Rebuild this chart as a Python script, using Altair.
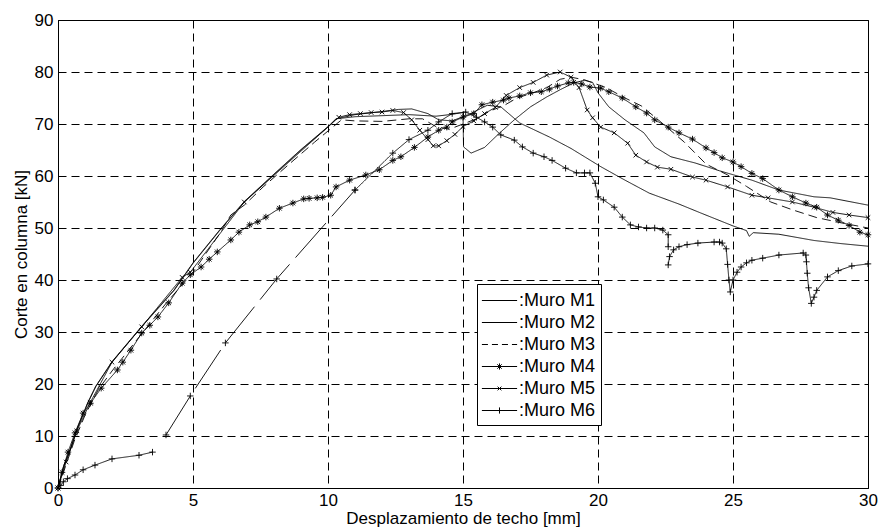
import altair as alt
import pandas as pd

muros = ["M1", "M2", "M3", "M4", "M5", "M6"]
legend_labels = [":Muro M1", ":Muro M2", ":Muro M3", ":Muro M4", ":Muro M5", ":Muro M6"]
x_ticks = [0, 5, 10, 15, 20, 25, 30]
y_ticks = [0, 10, 20, 30, 40, 50, 60, 70, 80, 90]

m1_x = [0, 0.2, 0.45, 0.7, 1.1, 1.4, 2.0, 3.1, 4.3, 5.0, 6.0, 6.9, 7.9, 9.0, 10.0, 10.3, 11.0, 12.0, 12.6, 13.1,
        13.7, 14.1, 14.6, 15.2, 15.9, 16.4, 17.1, 18.2, 19.0, 20.1, 21.0, 21.9, 23.0, 23.8, 25.0, 25.5, 25.6, 25.75,
        26.7, 28.0, 29.0, 30.0]
m1_y = [0, 4, 7.3, 11.2, 16.3, 19.5, 24.2, 31.0, 38.0, 43.2, 49.6, 55.0, 59.8, 65.0, 69.4, 71.0, 71.8, 72.4, 72.8, 72.9,
        72.0, 70.8, 70.6, 71.8, 73.6, 73.3, 70.2, 67.5, 65.3, 61.8, 59.2, 56.7, 54.6, 52.9, 50.4, 49.5, 48.4, 49.1,
        48.8, 47.6, 47.0, 46.5]

m2_x = [0, 0.2, 0.45, 0.7, 1.1, 1.4, 2.0, 3.1, 4.3, 5.0, 6.0, 6.9, 7.9, 9.0, 10.0, 10.3, 11.0, 12.0, 13.0, 14.0,
        14.5, 15.0, 15.02, 15.3, 15.8, 16.3, 16.9, 17.5, 18.1, 18.6, 19.1, 19.5, 19.8, 20.0, 20.4, 21.0, 21.7, 22.1,
        22.7, 23.6, 24.5, 25.7, 26.7, 28.0, 28.6, 30.0]
m2_y = [0, 4.1, 7.4, 11.3, 16.4, 19.6, 24.3, 31.1, 38.1, 43.3, 49.7, 55.1, 59.9, 65.1, 69.5, 71.0, 71.4, 71.6, 71.8, 71.5,
        71.8, 72.2, 65.6, 64.4, 65.5, 68.0, 70.8, 73.3, 75.2, 76.6, 77.9, 78.4, 78.0, 76.0, 73.3, 70.8, 68.3, 65.6,
        63.7, 62.5, 61.0, 59.2, 57.3, 56.0, 55.8, 54.4]

m3_x = [0, 0.3, 0.6, 1.0, 1.5, 2.0, 3.0, 4.0, 5.0, 6.0, 6.4, 6.9, 7.6, 8.5, 9.5, 10.5, 11.0, 12.0, 13.0, 13.5,
        14.0, 14.5, 15.0, 15.5, 16.0, 16.5, 17.0, 17.6, 18.1, 18.6, 19.0, 19.5, 20.3, 21.0, 21.6, 22.3, 23.2, 24.0,
        24.8, 25.5, 26.4, 27.2, 28.1, 29.0, 30.0]
m3_y = [0, 4.5, 9.0, 14.0, 19.0, 22.5, 29.0, 35.5, 41.5, 49.0, 52.5, 54.4, 57.9, 62.0, 66.5, 70.8, 70.6, 70.5, 71.0, 71.0,
        69.5, 69.0, 70.0, 71.0, 72.5, 73.5, 75.0, 76.0, 77.0, 78.6, 79.0, 78.5, 77.0, 75.0, 73.5, 70.5, 66.5, 62.3,
        60.2, 58.0, 55.0, 53.5, 52.0, 51.0, 50.0]

m4_x = [0, 0.15, 0.37, 0.63, 0.93, 1.2, 1.6, 2.2, 2.4, 2.7, 3.1, 3.4, 3.7, 4.1, 4.6, 4.9, 5.3, 5.6, 5.9, 6.4,
        6.7, 7.1, 7.4, 7.7, 8.2, 8.7, 9.1, 9.3, 9.6, 9.8, 10.1, 10.3, 10.8, 11.4, 11.9, 12.4, 12.7, 13.2, 13.7, 14.1,
        14.4, 14.6, 15.0, 15.4, 15.7, 16.1, 16.5, 16.7, 17.1, 17.5, 17.9, 18.2, 18.5, 18.9, 19.1, 19.4, 19.7, 20.1,
        20.4, 20.9, 21.4, 21.8, 22.1, 22.6, 23.0, 23.5, 24.0, 24.3, 24.6, 25.0, 25.3, 25.7, 26.1, 26.7, 27.2, 27.7,
        28.1, 28.5, 28.9, 29.3, 29.7, 30.0]
m4_y = [0, 3, 6.9, 10.6, 14.4, 16.3, 19.2, 22.7, 24.2, 26.5, 29.8, 31.3, 32.9, 35.6, 39.4, 41, 42.5, 44, 45.4, 47.7,
        49.2, 50.6, 51.2, 52.1, 53.8, 54.8, 55.6, 55.7, 55.8, 55.9, 56.3, 57.9, 59.2, 60.2, 61.2, 63, 63.7, 65.5, 67.5,
        68.8, 69.4, 70.4, 71.3, 72, 73.7, 74.2, 74.6, 75, 75.4, 76, 76.2, 76.7, 77.3, 77.9, 78, 77.7, 77.1, 76.9,
        76.2, 75, 73.3, 72.1, 70.8, 69.4, 68.3, 67.1, 65.4, 64.5, 63.5, 62.7, 61.8, 60.5, 59.5, 57.3, 56, 54.8,
        54, 52.5, 51.5, 50.5, 49.2, 48.7]

m5_x = [0, 0.3, 0.7, 1.2, 2.0, 3.1, 4.6, 4.9, 6.9, 10.4, 10.8, 11.2, 11.6, 12.0, 12.4, 12.8, 13.1,
        13.4, 13.7, 13.9, 14.1, 14.4, 14.7, 15.0, 15.4, 15.8, 16.2, 16.6, 17.1, 17.6, 18.1, 18.6, 19.0, 19.3, 19.6,
        19.8, 20.1, 20.6, 21.1, 21.4, 21.8, 22.2, 22.7, 23.5, 24.0, 24.8, 25.7, 26.3, 27.2, 28.0, 28.7, 29.3, 30.0]
m5_y = [0, 5, 11, 16.5, 24.2, 31, 40.5, 41.5, 55, 71.3, 71.8, 72, 72.2, 72.3, 72.6, 72.2, 70.8,
        68.8, 67, 65.8, 65.8, 66.8, 68, 69.5, 70.6, 72, 73.2, 75.5, 77, 78, 79.4, 80, 79, 77, 72.7,
        71.2, 69.4, 68.3, 66.3, 64, 62.7, 61.7, 61.3, 59.8, 59.2, 57.9, 56.3, 55.8, 55, 54, 53, 52.5, 52]

m6a_x = [0, 0.1, 0.2, 0.35, 0.63, 0.93, 1.37, 2.0, 3.0, 3.5]
m6a_y = [0, 0.5, 1.2, 1.8, 2.5, 3.5, 4.4, 5.6, 6.3, 6.9]
m6b_x = [4.0, 4.9, 6.2, 8.1, 11.0]
m6b_y = [10.2, 17.7, 27.9, 40.2, 57.3]
m6c_x = [11.0, 12.4, 13.0, 13.7, 14.1, 14.6, 15.1, 15.5, 15.8, 16.1, 16.4, 16.9, 17.2, 17.6,
         18.0, 18.3, 18.8, 19.2, 19.5, 19.7, 19.9, 20.0, 20.2, 20.6, 20.9, 21.2, 21.5, 21.8, 22.1, 22.4, 22.6, 22.6]
m6c_y = [57.3, 64.4, 67, 68.8, 70.4, 72, 72.3, 71.3, 70.4, 69.4, 67.9, 66.9, 65.6, 64.4,
         63.7, 63, 61.5, 60.6, 60.6, 60.6, 58.6, 56, 55.4, 54, 52.1, 50.6, 50.2, 50, 50, 49.6, 48.7, 46.4]
m6d_x = [22.6, 22.65, 22.8, 23.0, 23.3, 23.7, 24.3, 24.5, 24.6, 24.75, 24.8, 24.85, 24.9, 25.0, 25.15, 25.3, 25.5,
         25.7, 26.1, 26.7, 27.6, 27.7, 27.72, 27.75, 27.8, 27.9, 28.0, 28.1, 28.5, 28.9, 29.4, 30.0]
m6d_y = [42.9, 44.5, 45.8, 46.4, 46.8, 47.1, 47.3, 47.3, 47.1, 46, 43, 40, 37.7, 40, 41.5, 42.5, 43.3,
         43.8, 44.2, 44.8, 45.2, 44.8, 43.5, 41.3, 38.5, 35.5, 36.7, 38, 40.6, 41.8, 42.7, 43.1]

series = [
    ("M1", "M1a", m1_x, m1_y), ("M2", "M2a", m2_x, m2_y), ("M3", "M3a", m3_x, m3_y),
    ("M4", "M4a", m4_x, m4_y), ("M5", "M5a", m5_x, m5_y),
    ("M6", "M6a", m6a_x, m6a_y), ("M6", "M6b", m6b_x, m6b_y), ("M6", "M6c", m6c_x, m6c_y),
    ("M6", "M6d", m6d_x, m6d_y),
]
keys = [s[1] for s in series]
key_dash = [[1, 0], [1, 0], [9, 5], [1, 0], [1, 0], [1, 0], [46, 9], [1, 0], [1, 0]]

rows = []
for name, key, xs_, ys_ in series:
    for a, b in zip(xs_, ys_):
        rows.append({"Muro": name, "key": key, "i": len(rows), "x": a, "y": b,
                     "Leg": ":Muro " + name})
df = pd.DataFrame(rows)

FONT = "Liberation Sans"

# marker glyphs (unit-square SVG paths)
star = "M0,-1V1M-1,0H1M-0.72,-0.72L0.72,0.72M-0.72,0.72L0.72,-0.72"
xmark = "M-0.7,-0.7L0.7,0.7M-0.7,0.7L0.7,-0.7"
plus = "M0,-1V1M-1,0H1"

# legend glyphs: line sample (±1.6 units) with marker in the middle
L = "M-1.6,0H1.6"
leg_paths = [
    L, L,
    "M-1.6,0H-1.05M-0.69,0H-0.14M0.22,0H0.77M1.13,0H1.6",
    L + "M0,-0.28V0.28M-0.28,0H0.28M-0.2,-0.2L0.2,0.2M-0.2,0.2L0.2,-0.2",
    L + "M-0.17,-0.17L0.17,0.17M-0.17,0.17L0.17,-0.17",
    L + "M0,-0.28V0.28M-0.28,0H0.28",
]

xaxis = alt.Axis(values=x_ticks, title="Desplazamiento de techo [mm]", grid=True, gridColor="black",
                 gridDash=[8, 5], gridWidth=1, ticks=False, labelPadding=4, titlePadding=2,
                 labelFont=FONT, labelFontSize=17, titleFont=FONT, titleFontSize=17,
                 titleFontWeight="normal", labelColor="black", titleColor="black",
                 domainColor="black", labelFlush=False)
yaxis = alt.Axis(values=y_ticks, title="Corte en columna [kN]", grid=True, gridColor="black",
                 gridDash=[8, 5], gridWidth=1, ticks=False, labelPadding=5, titlePadding=4,
                 labelFont=FONT, labelFontSize=17, titleFont=FONT, titleFontSize=17,
                 titleFontWeight="normal", labelColor="black", titleColor="black",
                 domainColor="black", labelFlush=False)

xs = alt.Scale(domain=[0, 30], nice=False, zero=False)
ys = alt.Scale(domain=[0, 90], nice=False, zero=False)

lines = alt.Chart(df).mark_line(color="black", strokeWidth=0.9).encode(
    x=alt.X("x:Q", scale=xs, axis=xaxis),
    y=alt.Y("y:Q", scale=ys, axis=yaxis),
    detail="key:N",
    order="i:Q",
    strokeDash=alt.StrokeDash("key:N", scale=alt.Scale(domain=keys, range=key_dash), legend=None),
)

points = alt.Chart(df).transform_filter(
    "datum.Muro == 'M4' || datum.Muro == 'M5' || datum.Muro == 'M6'"
).mark_point(filled=False, color="black", strokeWidth=0.9, size=42, opacity=1).encode(
    x=alt.X("x:Q", scale=xs),
    y=alt.Y("y:Q", scale=ys),
    shape=alt.Shape("Muro:N", scale=alt.Scale(domain=["M4", "M5", "M6"], range=[star, xmark, plus]),
                    legend=None),
)

legend_layer = alt.Chart(df).transform_filter("false").mark_point(
    filled=False, color="black", strokeWidth=1, opacity=1
).encode(
    x=alt.X("x:Q", scale=xs),
    y=alt.Y("y:Q", scale=ys),
    shape=alt.Shape("Leg:N", scale=alt.Scale(domain=legend_labels, range=leg_paths),
                    legend=alt.Legend(title=None, orient="none", legendX=419, legendY=264,
                                      fillColor="white", strokeColor="black", padding=5,
                                      symbolSize=484, symbolStrokeWidth=1, symbolStrokeColor="black",
                                      symbolFillColor="transparent", symbolOffset=6,
                                      labelFont=FONT, labelFontSize=18, labelColor="black",
                                      labelOffset=8, rowPadding=1, cornerRadius=0)),
)

chart = alt.layer(lines, points, legend_layer).resolve_scale(shape="independent").properties(
    width=810, height=468,
    autosize=alt.AutoSizeParams(type="none"),
    padding={"left": 58, "top": 20, "right": 12, "bottom": 41},
    background="white",
).configure_view(stroke="black", strokeWidth=1)

chart.save("out.html", embed_options={"renderer": "svg", "actions": False})
